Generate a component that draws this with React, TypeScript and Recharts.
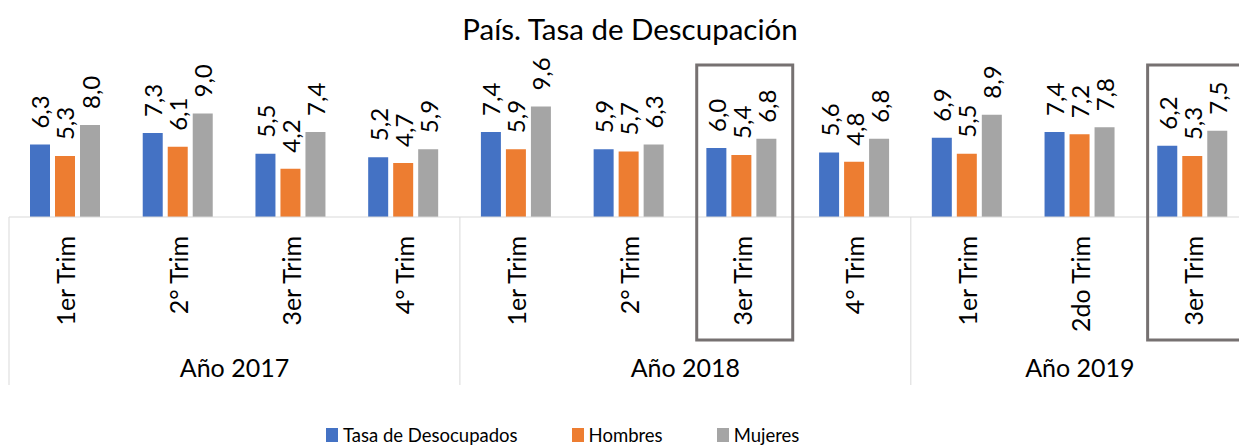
import { Bar, BarChart, LabelList, Legend, XAxis, YAxis } from "recharts";

const keys = ["2017-1", "2017-2", "2017-3", "2017-4", "2018-1", "2018-2", "2018-3", "2018-4", "2019-1", "2019-2", "2019-3"];
const trimLabels = ["1er Trim", "2° Trim", "3er Trim", "4° Trim", "1er Trim", "2° Trim", "3er Trim", "4° Trim", "1er Trim", "2do Trim", "3er Trim"];
const years = ["Año 2017", "Año 2018", "Año 2019"];
const yearSizes = [4, 4, 3];
const tasa = [6.3, 7.3, 5.5, 5.2, 7.4, 5.9, 6.0, 5.6, 6.9, 7.4, 6.2];
const hombres = [5.3, 6.1, 4.2, 4.7, 5.9, 5.7, 5.4, 4.8, 5.5, 7.2, 5.3];
const mujeres = [8.0, 9.0, 7.4, 5.9, 9.6, 6.3, 6.8, 6.8, 8.9, 7.8, 7.5];
const seriesNames = ["Tasa de Desocupados", "Hombres", "Mujeres"];
const seriesColors = ["#4472C4", "#ED7D31", "#A5A5A5"];
const highlighted = ["2018-3", "2019-3"];

const FONT = "Lato, 'Open Sans', sans-serif";
const CHART_W = 1250;
const CHART_H = 446;
const MARGIN = { top: 79, right: 1, bottom: 49, left: 9 };
const BAND = (CHART_W - MARGIN.left - MARGIN.right) / keys.length;
const AXIS_Y = 217;
const SEP_BOTTOM = 385;

const data = keys.map((key, i) => ({
  key,
  tasa: tasa[i],
  hombres: hombres[i],
  mujeres: mujeres[i],
}));

const fmt = (v: number) => v.toFixed(1).replace(".", ",");

function ValueLabel(props: any) {
  const { x, y, width, value } = props;
  const cx = Number(x) + Number(width) / 2;
  const ty = Number(y) - 16;
  return (
    <text
      x={cx}
      y={ty}
      transform={`rotate(-90, ${cx}, ${ty})`}
      textAnchor="start"
      dominantBaseline="central"
      fill="#000"
      fontFamily={FONT}
      fontSize={24}
    >
      {fmt(Number(value))}
    </text>
  );
}

function TrimTick(props: any) {
  const { x, index, payload } = props;
  const ty = 236;
  const boxed = highlighted.includes(payload.value);
  return (
    <g>
      {boxed && (
        <rect x={x - 45} y={65} width={96} height={275} fill="none" stroke="#767171" strokeWidth={3} />
      )}
      <text
        x={x}
        y={ty}
        transform={`rotate(-90, ${x}, ${ty})`}
        textAnchor="end"
        dominantBaseline="central"
        fill="#000"
        fontFamily={FONT}
        fontSize={25}
      >
        {trimLabels[index]}
      </text>
    </g>
  );
}

function YearTick(props: any) {
  const { x, index } = props;
  let start = 0;
  for (let g = 0; g < yearSizes.length; g++) {
    if (index === start) {
      const left = x - BAND / 2;
      const center = left + (yearSizes[g] * BAND) / 2;
      return (
        <g>
          <line x1={left} x2={left} y1={AXIS_Y} y2={SEP_BOTTOM} stroke="#d9d9d9" strokeWidth={1} />
          <text x={center} y={377} textAnchor="middle" fill="#000" fontFamily={FONT} fontSize={25}>
            {years[g]}
          </text>
        </g>
      );
    }
    start += yearSizes[g];
  }
  return <g />;
}

function LegendContent() {
  return (
    <div
      style={{
        display: "flex",
        alignItems: "center",
        gap: 54,
        fontFamily: FONT,
        fontSize: 18.5,
        lineHeight: "20px",
        color: "#000",
      }}
    >
      {seriesNames.map((name, i) => (
        <div key={name} style={{ display: "flex", alignItems: "center", gap: 5 }}>
          <span style={{ display: "inline-block", width: 12, height: 14, background: seriesColors[i] }} />
          <span>{name}</span>
        </div>
      ))}
    </div>
  );
}

export default function App() {
  return (
    <div style={{ position: "absolute", left: 0, top: 0, width: 1239, height: CHART_H, overflow: "hidden", background: "#fff" }}>
      <div
        style={{
          position: "absolute",
          left: 0,
          width: 1260,
          top: 11,
          textAlign: "center",
          fontFamily: FONT,
          fontSize: 29.5,
          color: "#000",
          zIndex: 2,
        }}
      >
        País. Tasa de Descupación
      </div>
      <BarChart width={CHART_W} height={CHART_H} data={data} margin={MARGIN} barSize={20} barGap={5}>
        <XAxis
          dataKey="key"
          interval={0}
          height={130}
          axisLine={{ stroke: "#d9d9d9" }}
          tickLine={false}
          tick={<TrimTick />}
        />
        <XAxis xAxisId="year" dataKey="key" interval={0} height={50} axisLine={false} tickLine={false} tick={<YearTick />} />
        <YAxis hide domain={[0, 12]} />
        <Legend
          verticalAlign="middle"
          align="center"
          layout="horizontal"
          content={<LegendContent />}
          wrapperStyle={{ left: 326, top: 425, width: 700, height: 20 }}
        />
        <Bar dataKey="tasa" name={seriesNames[0]} fill={seriesColors[0]} isAnimationActive={false}>
          <LabelList dataKey="tasa" content={<ValueLabel />} />
        </Bar>
        <Bar dataKey="hombres" name={seriesNames[1]} fill={seriesColors[1]} isAnimationActive={false}>
          <LabelList dataKey="hombres" content={<ValueLabel />} />
        </Bar>
        <Bar dataKey="mujeres" name={seriesNames[2]} fill={seriesColors[2]} isAnimationActive={false}>
          <LabelList dataKey="mujeres" content={<ValueLabel />} />
        </Bar>
      </BarChart>
    </div>
  );
}
